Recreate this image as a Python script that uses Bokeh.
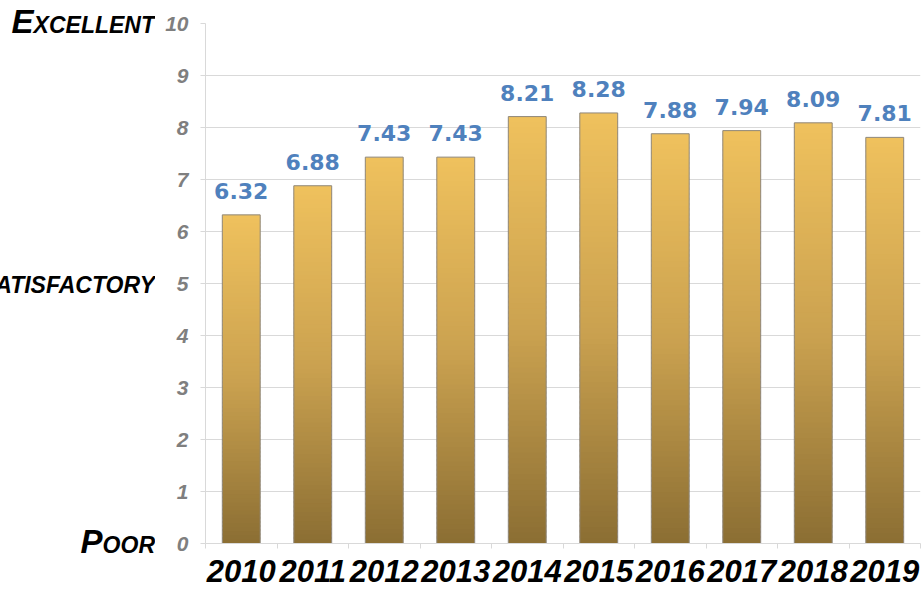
from bokeh.plotting import figure
from bokeh.models import ColumnDataSource, FixedTicker, Range1d, Div
from bokeh.layouts import row
from bokeh.embed import file_html
from bokeh.resources import INLINE
from bokeh.core.properties import value

years = ["2010", "2011", "2012", "2013", "2014", "2015", "2016", "2017", "2018", "2019"]
scores = [6.32, 6.88, 7.43, 7.43, 8.21, 8.28, 7.88, 7.94, 8.09, 7.81]
y_ticks = [0, 1, 2, 3, 4, 5, 6, 7, 8, 9, 10]
level_values = [0, 5, 10]
level_names = ["Poor", "Satisfactory", "Excellent"]

# gradient stops (fraction of bar height -> colour)
stops = [(0.0, (139, 110, 51)), (0.5, (203, 162, 80)), (1.0, (239, 193, 93))]

def grad(t):
    for (t0, c0), (t1, c1) in zip(stops[:-1], stops[1:]):
        if t <= t1:
            f = (t - t0) / (t1 - t0)
            return "#%02x%02x%02x" % tuple(int(round(a + (b - a) * f)) for a, b in zip(c0, c1))
    return "#%02x%02x%02x" % stops[-1][1]

H = 589
TOP_B, BOT_B = 23, 46
LEFT_W = 155
xs = [i + 0.5 for i in range(len(years))]
BAR_W = 0.53
N = 80
sl = dict(left=[], right=[], bottom=[], top=[], color=[])
for x, v in zip(xs, scores):
    for k in range(N):
        sl["left"].append(x - BAR_W / 2)
        sl["right"].append(x + BAR_W / 2)
        sl["bottom"].append(v * k / N)
        sl["top"].append(v * (k + 1) / N + (0.0 if k == N - 1 else v / N * 0.5))
        sl["color"].append(grad((k + 0.5) / N))

p = figure(width=922 - LEFT_W, height=H, output_backend="svg", toolbar_location=None,
           x_range=Range1d(0, len(years)), y_range=Range1d(0, 10),
           min_border_left=205 - LEFT_W, min_border_right=2, min_border_top=TOP_B,
           min_border_bottom=BOT_B)
p.outline_line_color = None

p.quad(left="left", right="right", bottom="bottom", top="top", fill_color="color",
       line_color=None, source=ColumnDataSource(sl))
src = ColumnDataSource(dict(x=xs, v=scores, lab=["%.2f" % s for s in scores]))
p.vbar(x="x", top="v", bottom=0, width=BAR_W, fill_color=None, line_color="#8f877a",
       line_width=1, source=src)
p.text(x="x", y="v", text="lab", source=src, text_align="center", text_baseline="alphabetic",
       y_offset=-24, text_font=value("DejaVu Sans"), text_font_style="bold",
       text_font_size="22px", text_color="#4f81bd")

p.xgrid.grid_line_color = None
p.ygrid.grid_line_color = "#d9d9d9"
p.ygrid.ticker = FixedTicker(ticks=y_ticks)

ya = p.yaxis[0]
ya.ticker = FixedTicker(ticks=y_ticks)
ya.axis_line_color = "#d9d9d9"
ya.major_tick_line_color = "#d9d9d9"
ya.major_tick_out = 5
ya.major_tick_in = 0
ya.minor_tick_line_color = None
ya.major_label_standoff = 12
ya.major_label_text_font = "Liberation Sans"
ya.major_label_text_font_style = "bold italic"
ya.major_label_text_font_size = "21px"
ya.major_label_text_color = "#7f7f7f"

xa = p.xaxis[0]
xa.ticker = FixedTicker(ticks=xs, minor_ticks=list(range(len(years) + 1)))
xa.major_label_overrides = {x: y for x, y in zip(xs, years)}
xa.axis_line_color = "#d9d9d9"
xa.major_tick_line_color = None
xa.major_tick_out = 0
xa.major_tick_in = 0
xa.minor_tick_line_color = "#d9d9d9"
xa.minor_tick_out = 5
xa.minor_tick_in = 0
xa.major_label_standoff = 11
xa.major_label_text_font = "Liberation Sans"
xa.major_label_text_font_style = "bold italic"
xa.major_label_text_font_size = "31px"
xa.major_label_text_color = "black"

# left panel with the level names in small caps, cut at the window edge
px_per_unit = (H - TOP_B - BOT_B) / 10.0
FS = 33
spans = []
for v, name in zip(level_values, level_names):
    top = TOP_B + (10 - v) * px_per_unit - FS / 2 - 2
    spans.append(
        '<div style="position:absolute;right:0;top:%.1fpx;white-space:nowrap;'
        'font-family:\'Liberation Sans\';font-style:italic;font-weight:bold;'
        'font-variant:small-caps;font-size:%dpx;line-height:%dpx;color:#000;">%s</div>'
        % (top, FS, FS, name))
html = ('<div style="position:relative;width:%dpx;height:%dpx;overflow:hidden;">%s</div>'
        % (LEFT_W, H, "".join(spans)))
left = Div(text=html, width=LEFT_W, height=H, margin=(0, 0, 0, 0))

open("out.html", "w").write(file_html(row(left, p), INLINE))
